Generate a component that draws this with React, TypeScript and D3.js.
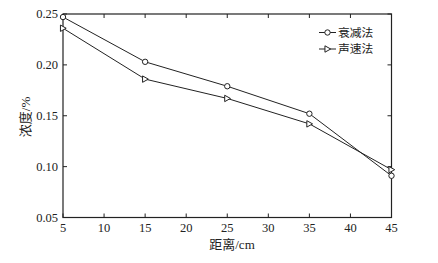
import React from "react";
import * as d3 from "d3";

const distances = [5, 15, 25, 35, 45];
const attenuation = [0.247, 0.203, 0.179, 0.152, 0.091];
const soundSpeed = [0.236, 0.186, 0.167, 0.142, 0.097];
const xTicks = [5, 10, 15, 20, 25, 30, 35, 40, 45];
const yTicks = [0.05, 0.1, 0.15, 0.2, 0.25];
const seriesNames = ["衰减法", "声速法"];

const W = 438, H = 263;
const M = { left: 63, right: 391.5, top: 14, bottom: 217.5 };
const numFont = "'Liberation Serif', 'Times New Roman', serif";
const cjkFont = "'Noto Sans CJK SC', sans-serif";

export default function App() {
  const x = d3.scaleLinear().domain([5, 45]).range([M.left, M.right]);
  const y = d3.scaleLinear().domain([0.05, 0.25]).range([M.bottom, M.top]);
  const line = d3.line<number>().x((_, i) => x(distances[i])).y((d) => y(d));
  const tk = 4;
  const tri = (cx: number, cy: number, s = 3.2) =>
    `M${cx - s * 0.8},${cy - s}L${cx + s},${cy}L${cx - s * 0.8},${cy + s}Z`;
  const legendRows = [32.5, 49];

  return (
    <svg width={W} height={H} style={{ position: "absolute", left: 0, top: 0, background: "#fff" }}>
      <rect x={0} y={0} width={W} height={H} fill="#fff" />
      <rect x={M.left} y={M.top} width={M.right - M.left} height={M.bottom - M.top} fill="none" stroke="#222" strokeWidth={1.2} />
      {xTicks.map((t) => (
        <g key={"x" + t}>
          <line x1={x(t)} x2={x(t)} y1={M.bottom} y2={M.bottom - tk} stroke="#222" />
          <line x1={x(t)} x2={x(t)} y1={M.top} y2={M.top + tk} stroke="#222" />
          <text x={x(t)} y={M.bottom + 14} textAnchor="middle" fontFamily={numFont} fontSize={12.5} fill="#222">{t}</text>
        </g>
      ))}
      {yTicks.map((t) => (
        <g key={"y" + t}>
          <line x1={M.left} x2={M.left + tk} y1={y(t)} y2={y(t)} stroke="#222" />
          <line x1={M.right} x2={M.right - tk} y1={y(t)} y2={y(t)} stroke="#222" />
          <text x={M.left - 5} y={y(t) + 4} textAnchor="end" fontFamily={numFont} fontSize={12.5} fill="#222">{t.toFixed(2)}</text>
        </g>
      ))}
      <path d={line(attenuation) || ""} fill="none" stroke="#222" strokeWidth={1} />
      <path d={line(soundSpeed) || ""} fill="none" stroke="#222" strokeWidth={1} />
      {attenuation.map((v, i) => (
        <circle key={"c" + i} cx={x(distances[i])} cy={y(v)} r={2.7} fill="#fff" stroke="#222" strokeWidth={1} />
      ))}
      {soundSpeed.map((v, i) => (
        <path key={"t" + i} d={tri(x(distances[i]), y(v))} fill="#fff" stroke="#222" strokeWidth={1} />
      ))}
      <g>
        <line x1={319} x2={336} y1={legendRows[0]} y2={legendRows[0]} stroke="#222" />
        <circle cx={327.5} cy={legendRows[0]} r={2.7} fill="#fff" stroke="#222" />
        <text x={338} y={legendRows[0] + 4.2} fontFamily={cjkFont} fontSize={11.8} fill="#222">{seriesNames[0]}</text>
        <line x1={319} x2={336} y1={legendRows[1]} y2={legendRows[1]} stroke="#222" />
        <path d={tri(327.5, legendRows[1])} fill="#fff" stroke="#222" />
        <text x={338} y={legendRows[1] + 4.2} fontFamily={cjkFont} fontSize={11.8} fill="#222">{seriesNames[1]}</text>
      </g>
      <text x={232} y={249} fontSize={13} fill="#222" textAnchor="middle">
        <tspan fontFamily={cjkFont}>距离</tspan><tspan fontFamily={numFont}>/cm</tspan>
      </text>
      <text transform={`translate(30,117) rotate(-90)`} fontSize={13} fill="#222" textAnchor="middle">
        <tspan fontFamily={cjkFont}>浓度</tspan><tspan fontFamily={numFont}>/%</tspan>
      </text>
    </svg>
  );
}
